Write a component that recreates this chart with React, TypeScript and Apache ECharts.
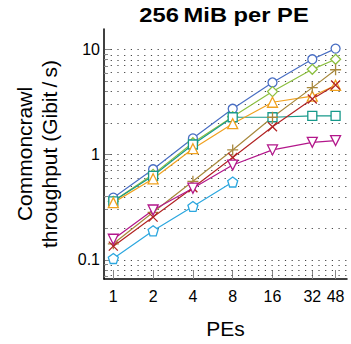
import React, { useEffect, useRef } from "react";
import * as echarts from "echarts";

// ---- data ----
const PES = [1, 2, 4, 8, 16, 32, 48];
const X_TICKS = [1, 2, 4, 8, 16, 32, 48];
const Y_MAJOR = [0.1, 1, 10];
const Y_MINOR = [0.07, 0.08, 0.09, 0.2, 0.3, 0.4, 0.5, 0.6, 0.7, 0.8, 0.9, 2, 3, 4, 5, 6, 7, 8, 9];

const blueCircle = [0.39, 0.726, 1.43, 2.73, 4.86, 8.07, 10.2];
const greenDiamond = [0.36, 0.65, 1.3, 2.3, 3.98, 6.48, 8.07];
const tealSquare = [0.36, 0.63, 1.25, 2.27, 2.27, 2.34, 2.34];
const orangeTriangle = [0.35, 0.59, 1.14, 1.97, 3.15, 3.6, 4.57];
const brownPlus = [0.142, 0.283, 0.558, 1.11, 2.27, 4.34, 6.42];
const redCross = [0.135, 0.255, 0.484, 0.94, 1.84, 3.38, 4.6];
const magentaTriDown = [0.157, 0.298, 0.48, 0.797, 1.11, 1.31, 1.36];
const lightBluePentagon = [0.103, 0.189, 0.322, 0.55];

const FONT = "'Liberation Sans', Arial, Helvetica, sans-serif";

function pentagonPath(): string {
  const pts: string[] = [];
  for (let i = 0; i < 5; i++) {
    const a = ((-90 + 72 * i) * Math.PI) / 180;
    pts.push(`${(5 + 5 * Math.cos(a)).toFixed(3)},${(5 + 5 * Math.sin(a)).toFixed(3)}`);
  }
  return "path://M" + pts.join("L") + "Z";
}

const SERIES_DEF = [
  { name: "A", values: blueCircle, color: "#4a6fc3", symbol: "circle", size: 9 },
  { name: "B", values: greenDiamond, color: "#8cbf40", symbol: "diamond", size: 10 },
  { name: "C", values: tealSquare, color: "#17998a", symbol: "rect", size: 9 },
  { name: "D", values: orangeTriangle, color: "#f0a11f", symbol: "triangle", size: 10 },
  { name: "E", values: brownPlus, color: "#a8883c", symbol: "path://M5,0L5,10M0,5L10,5", size: 11 },
  { name: "F", values: redCross, color: "#b22424", symbol: "path://M0,0L10,10M10,0L0,10", size: 9 },
  { name: "G", values: magentaTriDown, color: "#b3178b", symbol: "path://M0,0L10,0L5,8.66Z", size: 10 },
  { name: "H", values: lightBluePentagon, color: "#2ca7df", symbol: pentagonPath(), size: 10 },
];

export default function App() {
  const ref = useRef<HTMLDivElement>(null);

  useEffect(() => {
    if (!ref.current) return;
    const chart = echarts.init(ref.current, undefined, { renderer: "svg" });

    const dataSeries = SERIES_DEF.map((s) => ({
      type: "line",
      name: s.name,
      xAxisIndex: 0,
      yAxisIndex: 0,
      data: s.values.map((v, i) => [Math.log2(PES[i]), Math.log10(v)]),
      symbol: s.symbol,
      symbolSize: s.size,
      showAllSymbol: true,
      lineStyle: { color: s.color, width: 1.2 },
      itemStyle: { color: "#ffffff", borderColor: s.color, borderWidth: 1.3 },
      z: 5,
    }));

    const gridSeries = {
      type: "line",
      name: "grid",
      xAxisIndex: 0,
      yAxisIndex: 0,
      data: [[0, 0]],
      symbol: "none",
      lineStyle: { opacity: 0 },
      silent: true,
      z: 1,
      markLine: {
        silent: true,
        symbol: ["none", "none"],
        label: { show: false },
        lineStyle: { color: "#444", width: 1, type: [1.2, 5.5] },
        data: [...Y_MAJOR, ...Y_MINOR].map((v) => ({ yAxis: Math.log10(v) })),
      },
    };

    const xVals = X_TICKS.map((v) => Math.log2(v));

    chart.setOption({
      animation: false,
      grid: { left: 104, top: 29, width: 243, height: 256, containLabel: false },
      graphic: [
        {
          type: "text",
          x: 224,
          y: 15,
          scaleX: 1.13,
          style: {
            text: "256\u2009MiB per PE",
            fontFamily: FONT,
            fontWeight: "bold",
            fontSize: 21,
            fill: "#000",
            textAlign: "center",
            textVerticalAlign: "middle",
          },
        },
      ],
      xAxis: {
        type: "value",
        min: -0.234,
        max: 5.872,
        name: "PEs",
        nameLocation: "middle",
        nameGap: 39,
        nameTextStyle: { fontFamily: FONT, fontSize: 21, color: "#000" },
        axisLine: { show: true, onZero: false, lineStyle: { color: "#000", width: 1.5 } },
        axisTick: {
          show: true,
          inside: true,
          length: 9,
          customValues: xVals,
          lineStyle: { color: "#888", width: 1 },
        },
        axisLabel: {
          show: true,
          customValues: xVals,
          margin: 9,
          fontFamily: FONT,
          fontSize: 16,
          color: "#000",
          formatter: (v: number) => String(Math.round(Math.pow(2, v))),
        },
        splitLine: { show: false },
      },
      yAxis: [
        {
          type: "value",
          min: -1.182,
          max: 1.195,
          position: "left",
          name: "Commoncrawl\nthroughput (Gibit\u2009/\u2009s)",
          nameLocation: "middle",
          nameGap: 42,
          nameRotate: 90,
          nameTextStyle: { fontFamily: FONT, fontSize: 21, color: "#000", lineHeight: 25 },
          axisLine: { show: true, onZero: false, lineStyle: { color: "#000", width: 1.5 } },
          axisTick: {
            show: true,
            inside: true,
            length: 8,
            customValues: Y_MAJOR.map((v) => Math.log10(v)),
            lineStyle: { color: "#888", width: 1 },
          },
          axisLabel: {
            show: true,
            customValues: Y_MAJOR.map((v) => Math.log10(v)),
            margin: 4,
            fontFamily: FONT,
            fontSize: 16,
            color: "#000",
            formatter: (v: number) => {
              const r = Math.pow(10, v);
              return r < 1 ? r.toFixed(1) : String(Math.round(r));
            },
          },
          splitLine: { show: false },
        },
        {
          type: "value",
          min: -1.182,
          max: 1.195,
          position: "left",
          offset: 0,
          axisLine: { show: false, onZero: false },
          axisTick: {
            show: true,
            inside: true,
            length: 4,
            customValues: Y_MINOR.map((v) => Math.log10(v)),
            lineStyle: { color: "#888", width: 1 },
          },
          axisLabel: { show: false },
          splitLine: { show: false },
        },
      ],
      series: [gridSeries, ...dataSeries],
    });

    return () => chart.dispose();
  }, []);

  return (
    <div
      ref={ref}
      style={{ position: "fixed", left: 0, top: 0, width: 351, height: 344, background: "#fff" }}
    />
  );
}
